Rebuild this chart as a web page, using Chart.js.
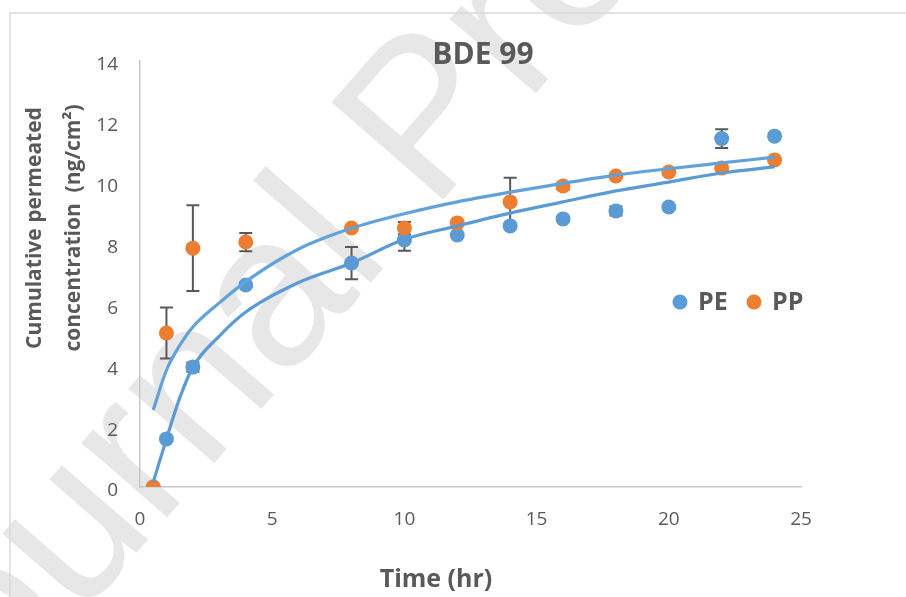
<!DOCTYPE html>
<html>
<head>
<meta charset="utf-8">
<script src="https://cdn.jsdelivr.net/npm/chart.js@4.4.1/dist/chart.umd.min.js"></script>
<style>
  html, body { margin: 0; padding: 0; background: #fff; }
  #wrap { width: 906px; height: 597px; }
</style>
</head>
<body>
<div id="wrap"><canvas id="grafico" width="906" height="597"></canvas></div>
<script>
// ===== DADOS =====
const horas = [0.5, 1, 2, 4, 8, 10, 12, 14, 16, 18, 20, 22, 24];
const pe = [0, 1.58, 3.94, 6.64, 7.36, 8.12, 8.28, 8.58, 8.81, 9.07, 9.2, 11.45, 11.53];
const peErro = [0, 0, 0.15, 0, 0.53, 0.36, 0, 0, 0, 0.15, 0, 0.31, 0.1];
const pp = [0, 5.06, 7.85, 8.05, 8.51, 8.51, 8.68, 9.37, 9.89, 10.22, 10.35, 10.48, 10.75];
const ppErro = [0, 0.84, 1.41, 0.3, 0, 0.2, 0, 0.79, 0.12, 0, 0, 0, 0];

// linhas de tendencia
const tendX = [0.5, 1, 1.5, 2, 3, 4, 6, 8, 10, 12, 14, 16, 18, 20, 22, 24];
const tendPP = [2.53, 3.84, 4.65, 5.26, 6.05, 6.75, 7.82, 8.5, 8.98, 9.37, 9.69, 9.98, 10.25, 10.46, 10.65, 10.84];
const tendPE = [0.16, 1.58, 2.92, 3.94, 4.96, 5.75, 6.72, 7.36, 8.14, 8.58, 9.0, 9.37, 9.73, 10.02, 10.32, 10.52];

const titulo = 'BDE 99';
const tituloX = 'Time (hr)';
const tituloY = ['Cumulative permeated', 'concentration  (ng/cm²)'];
const marcaDagua = 'Journal Pre-proof';

const AZUL = '#5B9BD5';
const LARANJA = '#ED7D31';
const CINZA = '#595959';

const pares = (xs, ys) => xs.map((x, i) => ({ x: x, y: ys[i] }));

// ===== PLUGINS =====
const fundo = {
  id: 'fundo',
  beforeDraw(chart) {
    const c = chart.ctx;
    c.save();
    c.fillStyle = '#fff';
    c.fillRect(0, 0, chart.width, chart.height);
    // marca d'agua
    c.translate(-70, 790);
    c.rotate(-49 * Math.PI / 180);
    c.font = '215px "Liberation Sans"';
    c.fillStyle = '#E7E7E7';
    c.fillText(marcaDagua, 0, 0);
    c.restore();
    // moldura
    c.save();
    c.strokeStyle = '#D9D9D9';
    c.lineWidth = 1.5;
    c.strokeRect(10, 13, 1000, 1000);
    c.restore();
  }
};

const barrasErro = {
  id: 'barrasErro',
  beforeDatasetsDraw(chart) {
    const { ctx, scales: { x, y } } = chart;
    ctx.save();
    ctx.strokeStyle = CINZA;
    ctx.lineWidth = 2;
    chart.data.datasets.forEach(ds => {
      if (!ds.erros) return;
      ds.data.forEach((p, i) => {
        const e = ds.erros[i];
        if (!e) return;
        const px = x.getPixelForValue(p.x);
        const topo = y.getPixelForValue(p.y + e);
        const base = y.getPixelForValue(p.y - e);
        ctx.beginPath();
        ctx.moveTo(px, topo); ctx.lineTo(px, base);
        ctx.moveTo(px - 6.5, topo); ctx.lineTo(px + 6.5, topo);
        ctx.moveTo(px - 6.5, base); ctx.lineTo(px + 6.5, base);
        ctx.stroke();
      });
    });
    ctx.restore();
  }
};

const textos = {
  id: 'textos',
  afterDraw(chart) {
    const c = chart.ctx;
    c.save();
    c.fillStyle = CINZA;
    c.textAlign = 'center';
    c.textBaseline = 'middle';

    c.font = 'bold 30px "Open Sans"';
    c.fillText(titulo, 483, 55);

    c.font = 'bold 25px "Open Sans"';
    c.fillText(tituloX, 436, 580);

    // titulo do eixo Y em duas linhas
    c.save();
    c.translate(35, 228);
    c.rotate(-Math.PI / 2);
    c.font = 'bold 21px "Open Sans"';
    c.fillText(tituloY[0], 0, 0);
    c.fillText(tituloY[1], 0, 39);
    c.restore();

    // legenda
    const itens = chart.data.datasets.filter(d => d.legenda);
    let lx = 680;
    c.font = 'bold 25px "Open Sans"';
    c.textAlign = 'left';
    itens.forEach(d => {
      c.fillStyle = d.backgroundColor;
      c.beginPath();
      c.arc(lx, 302, 7.5, 0, Math.PI * 2);
      c.fill();
      c.fillStyle = CINZA;
      c.fillText(d.label, lx + 18, 303);
      lx += 74;
    });
    c.restore();
  }
};

// ===== GRAFICO =====
const ctx = document.getElementById('grafico').getContext('2d');
new Chart(ctx, {
  type: 'scatter',
  data: {
    datasets: [
      { label: 'PE', data: pares(horas, pe), erros: peErro, legenda: true, backgroundColor: AZUL,
        borderWidth: 0, pointRadius: 7.5, order: 2 },
      { label: 'PP', data: pares(horas, pp), erros: ppErro, legenda: true, backgroundColor: LARANJA,
        borderWidth: 0, pointRadius: 7.5, order: 1 },
      { label: 'tendPE', data: pares(tendX, tendPE), showLine: true, borderColor: AZUL, borderWidth: 3.2,
        pointRadius: 0, cubicInterpolationMode: 'monotone', order: 0 },
      { label: 'tendPP', data: pares(tendX, tendPP), showLine: true, borderColor: '#62A2DA', borderWidth: 3.2,
        pointRadius: 0, cubicInterpolationMode: 'monotone', order: 0 }
    ]
  },
  options: {
    responsive: false,
    animation: false,
    events: [],
    devicePixelRatio: 1,
    layout: { padding: { top: 61, right: 105, bottom: 0, left: 0 } },
    plugins: { legend: { display: false }, tooltip: { enabled: false }, title: { display: false } },
    scales: {
      x: {
        type: 'linear', min: 0, max: 25,
        grid: { display: false, drawTicks: false },
        border: { display: true, color: '#C8C8C8', width: 1.5 },
        ticks: { stepSize: 5, padding: 21, color: CINZA, font: { family: 'Open Sans', size: 19 } },
        afterFit: s => { s.height = 110; }
      },
      y: {
        min: 0, max: 14,
        grid: { display: false, drawTicks: false },
        border: { display: true, color: '#C8C8C8', width: 1.5 },
        ticks: { stepSize: 2, padding: 22, labelOffset: 4, color: CINZA, font: { family: 'Open Sans', size: 19 } },
        afterFit: s => { s.width = 140; }
      }
    }
  },
  plugins: [fundo, barrasErro, textos]
});
</script>
</body>
</html>
